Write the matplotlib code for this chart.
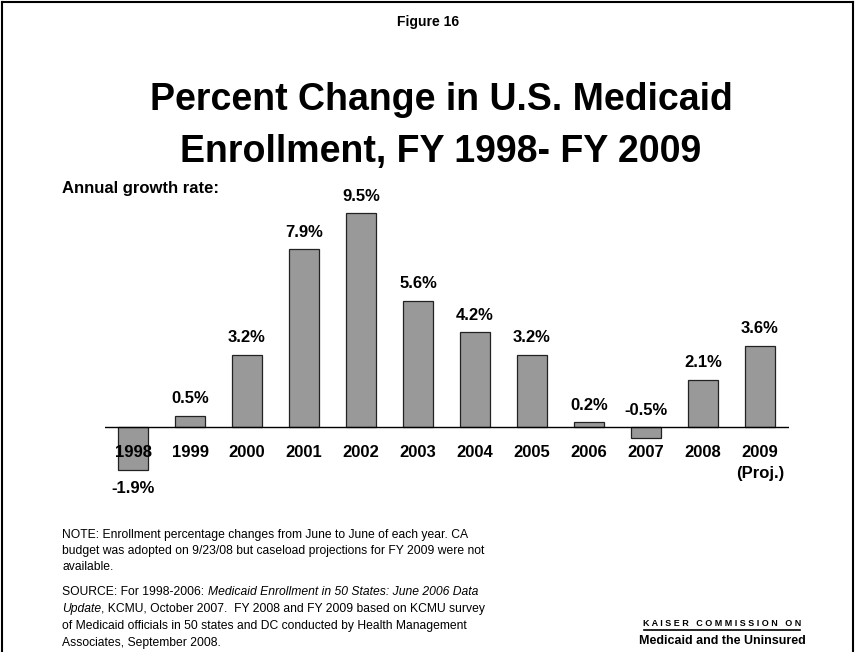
import numpy as np
import matplotlib.pyplot as plt
from matplotlib.lines import Line2D

plt.rcParams['font.family'] = ['Liberation Sans', 'DejaVu Sans']

# Annual Medicaid enrollment growth, FY 1998 - FY 2009
years = ['1998', '1999', '2000', '2001', '2002', '2003',
         '2004', '2005', '2006', '2007', '2008', '2009\n(Proj.)']
growth = [-1.9, 0.5, 3.2, 7.9, 9.5, 5.6, 4.2, 3.2, 0.2, -0.5, 2.1, 3.6]

W, H = 855, 652
fig = plt.figure(figsize=(W / 100, H / 100), dpi=100)


def px(x, y):
    # pixel position (from top-left) -> figure fraction
    return x / W, 1 - y / H


# axes area in pixel coords: x 104..789, zero line at y=427, 9.5% top at y=213
left, right = 104.5, 788.5
top_px, bot_px = 160, 500
ax = fig.add_axes([left / W, 1 - bot_px / H, (right - left) / W, (bot_px - top_px) / H])
ppp = (427 - 213) / 9.5
ax.set_ylim(-(bot_px - 427) / ppp, (427 - top_px) / ppp)
ax.set_xlim(-0.5, len(years) - 0.5)
ax.axis('off')

x = np.arange(len(years))
ax.bar(x, growth, width=0.52, color='#999999', edgecolor='#222222', linewidth=0.9, zorder=2)
ax.axhline(0, color='black', linewidth=1, zorder=3)

for xi, v, yr in zip(x, growth, years):
    if v > -1:
        ax.text(xi, max(v, 0) + 0.42, f'{v:.1f}%', ha='center', va='bottom',
                fontsize=12, fontweight='bold')
    else:
        ax.text(xi, v - 0.5, f'{v:.1f}%', ha='center', va='top',
                fontsize=12, fontweight='bold')
    ax.text(xi, -0.82, yr, ha='center', va='top', fontsize=12,
            fontweight='bold', linespacing=1.45, zorder=4)

# headings
fig.text(*px(428, 22), 'Figure 16', ha='center', va='center',
         fontsize=10, fontweight='bold')
fig.text(*px(441, 100), 'Percent Change in U.S. Medicaid', ha='center', va='center',
         fontsize=27, fontweight='bold')
fig.text(*px(441, 152), 'Enrollment, FY 1998- FY 2009', ha='center', va='center',
         fontsize=27, fontweight='bold')
fig.text(*px(62, 188), 'Annual growth rate:', ha='left', va='center',
         fontsize=12, fontweight='bold')

# notes, drawn line by line; each line is a list of (text, style) runs
fs = 8.7
note_lines = [
    (535, [('NOTE: Enrollment percentage changes from June to June of each year. CA', 'normal')]),
    (551, [('budget was adopted on 9/23/08 but caseload projections for FY 2009 were not', 'normal')]),
    (567, [('available.', 'normal')]),
    (592, [('SOURCE: For 1998-2006: ', 'normal'),
           ('Medicaid Enrollment in 50 States: June 2006 Data', 'italic')]),
    (609, [('Update', 'italic'),
           (', KCMU, October 2007.  FY 2008 and FY 2009 based on KCMU survey', 'normal')]),
    (626, [('of Medicaid officials in 50 states and DC conducted by Health Management', 'normal')]),
    (643, [('Associates, September 2008.', 'normal')]),
]
renderer = fig.canvas.get_renderer()
for y, runs in note_lines:
    xpos = 62
    for s, st in runs:
        t = fig.text(*px(xpos, y), s, ha='left', va='center', fontsize=fs, style=st)
        xpos += t.get_window_extent(renderer).width

# logo
fig.text(*px(722, 623), 'K A I S E R   C O M M I S S I O N   O N', ha='center',
         va='center', fontsize=6.5, fontweight='bold')
fig.add_artist(Line2D([644 / W, 800 / W], [1 - 630 / H, 1 - 630 / H],
                      color='black', linewidth=1.2))
fig.text(*px(722, 641), 'Medicaid and the Uninsured', ha='center', va='center',
         fontsize=9, fontweight='heavy')

# frame
for xs, ys in [([1.5 / W, 1.5 / W], [0, 1 - 1.5 / H]),
               ([1.5 / W, 1 - 2.5 / W], [1 - 1.5 / H, 1 - 1.5 / H]),
               ([1 - 2.5 / W, 1 - 2.5 / W], [0, 1 - 1.5 / H])]:
    fig.add_artist(Line2D(xs, ys, color='black', linewidth=1.5))

fig.savefig('out.png', dpi=100)
